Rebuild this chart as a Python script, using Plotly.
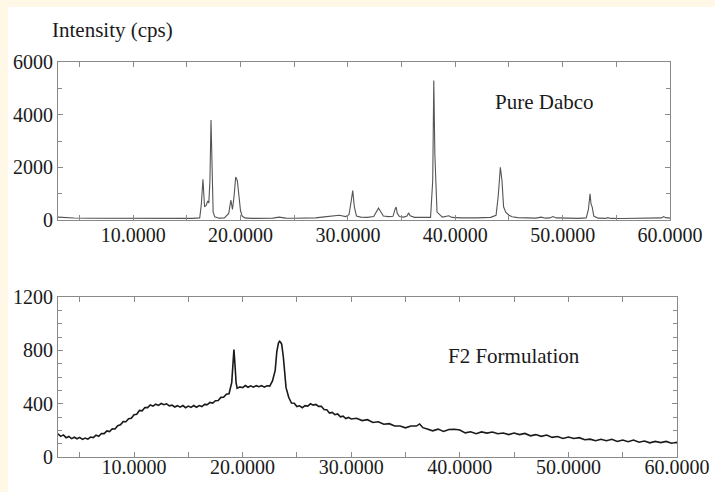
import plotly.graph_objects as go

# ---- Pure Dabco (top panel) ----
dabco_x = [3.0, 3.5, 4.5, 6, 8, 10, 12, 14, 15.5, 16.2, 16.35, 16.5, 16.65, 16.8, 16.95, 17.05, 17.15, 17.25,
           17.35, 17.45, 17.6, 18.0, 18.5, 18.9, 19.1, 19.25, 19.4, 19.55, 19.7, 19.85, 20.0, 20.15, 20.4, 21,
           22, 23, 23.6, 24.2, 25, 26, 27, 27.8, 28.5, 29.2, 29.8, 30.1, 30.3, 30.45, 30.6, 30.8, 31.2, 31.8,
           32.4, 32.7, 32.85, 33.0, 33.3, 33.8, 34.2, 34.4, 34.5, 34.6, 34.8, 35.2, 35.5, 35.65, 35.8, 36.2,
           37, 37.7, 37.9, 38.0, 38.1, 38.3, 38.8, 39.2, 39.4, 39.7, 40.5, 42, 43.3, 43.8, 44.0, 44.2, 44.35,
           44.5, 44.7, 45.0, 45.3, 45.8, 46.5, 47.5, 48.0, 48.4, 48.8, 49.1, 49.4, 50.5, 51.5, 52.2, 52.4,
           52.55, 52.65, 52.75, 52.9, 53.3, 54.0, 54.2, 54.5, 55.5, 57, 58.5, 59.2, 59.4, 59.6, 60]
dabco_y = [110, 90, 75, 65, 60, 55, 60, 55, 60, 80, 600, 1550, 500, 550, 720, 650, 1500, 3800,
           1200, 300, 120, 70, 80, 250, 760, 400, 900, 1630, 1500, 900, 350, 150, 80, 60,
           65, 70, 110, 70, 65, 70, 80, 120, 140, 180, 130, 200, 700, 1120, 500, 150, 110, 100,
           130, 330, 450, 350, 150, 130, 140, 420, 490, 250, 130, 110, 150, 270, 160, 100,
           90, 100, 1500, 5300, 2500, 300, 110, 140, 160, 100, 80, 80, 100, 180, 900, 2000, 1500,
           500, 300, 180, 120, 90, 80, 70, 110, 70, 80, 130, 80, 60, 60, 80, 400,
           990, 600, 500, 150, 70, 60, 90, 60, 55, 55, 60, 80, 130, 90, 70]

# ---- F2 Formulation (bottom panel) ----
f2_x = [3.0, 3.25, 3.5, 3.75, 4.0, 4.25, 4.5, 4.75, 5.0, 5.25, 5.5, 5.75, 6.0, 6.25, 6.5, 6.75,
        7.0, 7.25, 7.5, 7.75, 8.0, 8.25, 8.5, 8.75, 9.0, 9.25, 9.5, 9.75, 10.0, 10.25, 10.5, 10.75,
        11.0, 11.25, 11.5, 11.75, 12.0, 12.25, 12.5, 12.75, 13.0, 13.25, 13.5, 13.75, 14.0, 14.25, 14.5, 14.75,
        15.0, 15.25, 15.5, 15.75, 16.0, 16.25, 16.5, 16.75, 17.0, 17.25, 17.5, 17.75, 18.0, 18.25, 18.5, 18.75,
        19.0, 19.1, 19.2, 19.3, 19.4, 19.5,
        19.75, 20.0, 20.25, 20.5, 20.75, 21.0, 21.25, 21.5, 21.75, 22.0, 22.25, 22.5, 22.75,
        23.0, 23.15, 23.3, 23.4, 23.5, 23.6, 23.75, 23.9, 24.0,
        24.25, 24.5, 24.75, 25.0, 25.25, 25.5, 25.75, 26.0, 26.25, 26.5, 26.75, 27.0, 27.25, 27.5, 27.75, 28.0,
        28.25, 28.5, 28.75, 29.0, 29.25, 29.5, 29.75, 30.0,
        30.5, 31.0, 31.5, 32.0, 32.5, 33.0, 33.5, 34.0, 34.5, 35.0, 35.5, 36.0, 36.3, 36.6, 37.0, 37.5,
        38.0, 38.5, 39.0, 39.5, 40.0, 40.5, 41.0, 41.5, 42.0, 42.5, 43.0, 43.5, 44.0, 44.5, 45.0, 45.5,
        46.0, 46.5, 47.0, 47.5, 48.0, 48.5, 49.0, 49.5, 50.0, 50.5, 51.0, 51.5, 52.0, 52.5, 53.0, 53.5,
        54.0, 54.5, 55.0, 55.5, 56.0, 56.5, 57.0, 57.5, 58.0, 58.5, 59.0, 59.5, 60.0]
f2_y = [174, 155, 166, 145, 154, 138, 148, 137, 147, 132, 142, 134, 150, 146, 164, 156,
        176, 175, 196, 191, 212, 210, 235, 242, 265, 264, 287, 290, 317, 321, 349, 346,
        371, 370, 390, 381, 396, 387, 401, 392, 399, 384, 389, 375, 385, 374, 386, 370,
        382, 372, 386, 373, 386, 378, 395, 393, 409, 404, 422, 424, 447, 448, 471, 474,
        560, 700, 805, 690, 555, 515,
        526, 520, 536, 523, 534, 524, 535, 527, 535, 524, 534, 532, 570,
        650, 790, 855, 868, 860, 845, 750, 600, 520,
        446, 405, 403, 378, 384, 370, 385, 382, 399, 389, 394, 380, 380, 356, 354, 329,
        334, 317, 323, 301, 306, 288, 297, 285,
        290, 273, 280, 259, 264, 246, 250, 232, 232, 219, 232, 232, 248, 220, 210, 196,
        209, 192, 206, 208, 203, 181, 189, 175, 188, 179, 187, 174, 180, 168, 180, 168,
        177, 159, 168, 155, 165, 147, 154, 139, 150, 139, 145, 129, 134, 122, 133, 122,
        133, 116, 127, 115, 127, 111, 120, 106, 117, 108, 117, 103, 110]

# ---- axis ticks ----
x_tick_vals = [10, 20, 30, 40, 50, 60]
x_tick_text = ["10.0000", "20.0000", "30.0000", "40.0000", "50.0000", "60.0000"]
x_minor_vals = [5, 15, 25, 35, 45, 55]
y1_tick_vals = [0, 2000, 4000, 6000]
y2_tick_vals = [0, 400, 800, 1200]

W, H = 715, 492
FONT = "Liberation Serif"
AX = "#8a8a8a"
TXT = "#1a1a1a"

fig = go.Figure()
fig.add_trace(go.Scatter(x=dabco_x, y=dabco_y, mode="lines", xaxis="x", yaxis="y",
                         line=dict(color="#555555", width=1.1), showlegend=False))
fig.add_trace(go.Scatter(x=f2_x, y=f2_y, mode="lines", xaxis="x2", yaxis="y2",
                         line=dict(color="#1a1a1a", width=1.6), showlegend=False))


def xax(domain, anchor, standoff):
    return dict(domain=domain, anchor=anchor, range=[3, 60], tickmode="array",
                tickvals=x_tick_vals, ticktext=x_tick_text, ticks="inside", ticklen=5,
                tickcolor=AX, showline=True, linecolor=AX, linewidth=1, mirror="ticks",
                showgrid=False, zeroline=False, automargin=False, ticklabelstandoff=standoff,
                tickfont=dict(family=FONT, size=20, color=TXT),
                minor=dict(tickvals=x_minor_vals, ticks="inside", ticklen=5, tickcolor=AX, showgrid=False))


def yax(domain, anchor, rng, tv, mdt):
    return dict(domain=domain, anchor=anchor, range=rng, tickmode="array", tickvals=tv,
                ticks="inside", ticklen=5, tickcolor=AX, showline=True, linecolor=AX, linewidth=1,
                mirror="ticks", showgrid=False, zeroline=False, automargin=False,
                tickfont=dict(family=FONT, size=20, color=TXT),
                minor=dict(dtick=mdt, tick0=0, ticks="inside", ticklen=4, tickcolor=AX, showgrid=False))


fig.update_layout(
    width=W, height=H,
    margin=dict(l=0, r=0, t=0, b=0),
    paper_bgcolor="#FFF8E6",
    plot_bgcolor="white",
    xaxis=xax([58 / W, 670 / W], "y", -3),
    yaxis=yax([1 - 220 / H, 1 - 62 / H], "x", [0, 6000], y1_tick_vals, 1000),
    xaxis2=xax([58 / W, 677 / W], "y2", -8),
    yaxis2=yax([1 - 457 / H, 1 - 297 / H], "x2", [0, 1200], y2_tick_vals, 100),
    shapes=[dict(type="rect", xref="paper", yref="paper", x0=8 / W, x1=1, y0=0, y1=1 - 7 / H,
                 fillcolor="white", line=dict(width=0), layer="below")],
    annotations=[
        dict(text="Intensity (cps)", xref="paper", yref="paper", x=112 / W, y=1 - 30 / H,
             xanchor="center", yanchor="middle",
             showarrow=False, font=dict(family=FONT, size=21, color=TXT)),
        dict(text="Pure Dabco", xref="paper", yref="paper", x=544 / W, y=1 - 102 / H,
             xanchor="center", yanchor="middle",
             showarrow=False, font=dict(family=FONT, size=21, color=TXT)),
        dict(text="F2 Formulation", xref="paper", yref="paper", x=514 / W, y=1 - 356 / H,
             xanchor="center", yanchor="middle",
             showarrow=False, font=dict(family=FONT, size=21, color=TXT)),
    ],
)

fig.write_html("out.html")
